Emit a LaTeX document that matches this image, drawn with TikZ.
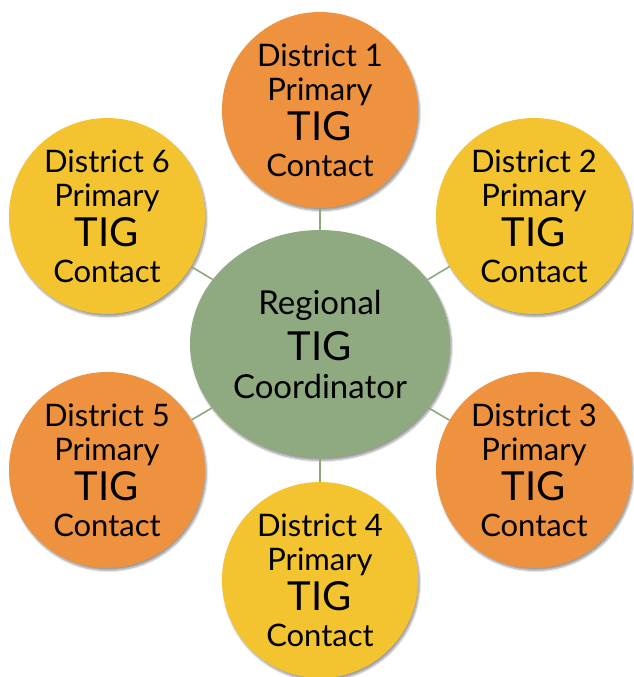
\documentclass[tikz,border=0pt]{standalone}
\usepackage{fontspec}
\setmainfont{Lato}
\usepackage{tikz}
\usetikzlibrary{positioning, shapes.geometric, shadows.blur}
\definecolor{tigorange}{RGB}{238,146,64}
\definecolor{tigyellow}{RGB}{244,196,48}
\definecolor{tiggreen}{RGB}{143,170,128}
\definecolor{tigline}{RGB}{140,168,125}

\newcommand{\tig}{{\fontsize{40}{40}\selectfont TIG}}

\begin{document}
\begin{tikzpicture}[x=1pt, y=-1pt,
	contact/.style={circle, minimum size=196pt, inner sep=0pt, align=center,
		blur shadow={shadow xshift=1.5pt, shadow yshift=-2.5pt, shadow blur steps=6},
		font=\fontsize{31}{34}\selectfont},
	coordinator/.style={ellipse, fill=tiggreen, minimum width=260pt, minimum height=228pt,
		inner sep=0pt, align=center,
		blur shadow={shadow xshift=1.5pt, shadow yshift=-2.5pt, shadow blur steps=6},
		font=\fontsize{33}{36}\selectfont},
	link/.style={tigline, line width=1.6pt}]

\useasboundingbox (0,0) rectangle (633,677);

\node[coordinator] (region) at (320,344) {Regional\\[10pt]\tig\\[2pt]Coordinator};

\node[contact, fill=tigorange] (d1) at (320,110) {District 1\\Primary\\[5pt]\tig\\[2pt]Contact};
\node[contact, fill=tigyellow] (d2) at (534,216) {District 2\\Primary\\[5pt]\tig\\[2pt]Contact};
\node[contact, fill=tigorange] (d3) at (534,470) {District 3\\Primary\\[5pt]\tig\\[2pt]Contact};
\node[contact, fill=tigyellow] (d4) at (320,580) {District 4\\Primary\\[5pt]\tig\\[2pt]Contact};
\node[contact, fill=tigorange] (d5) at (107,470) {District 5\\Primary\\[5pt]\tig\\[2pt]Contact};
\node[contact, fill=tigyellow] (d6) at (107,216) {District 6\\Primary\\[5pt]\tig\\[2pt]Contact};

\foreach \d in {d1, d2, d3, d4, d5, d6} {
	\draw[link] (region) -- (\d); % spoke
}

\end{tikzpicture}
\end{document}
